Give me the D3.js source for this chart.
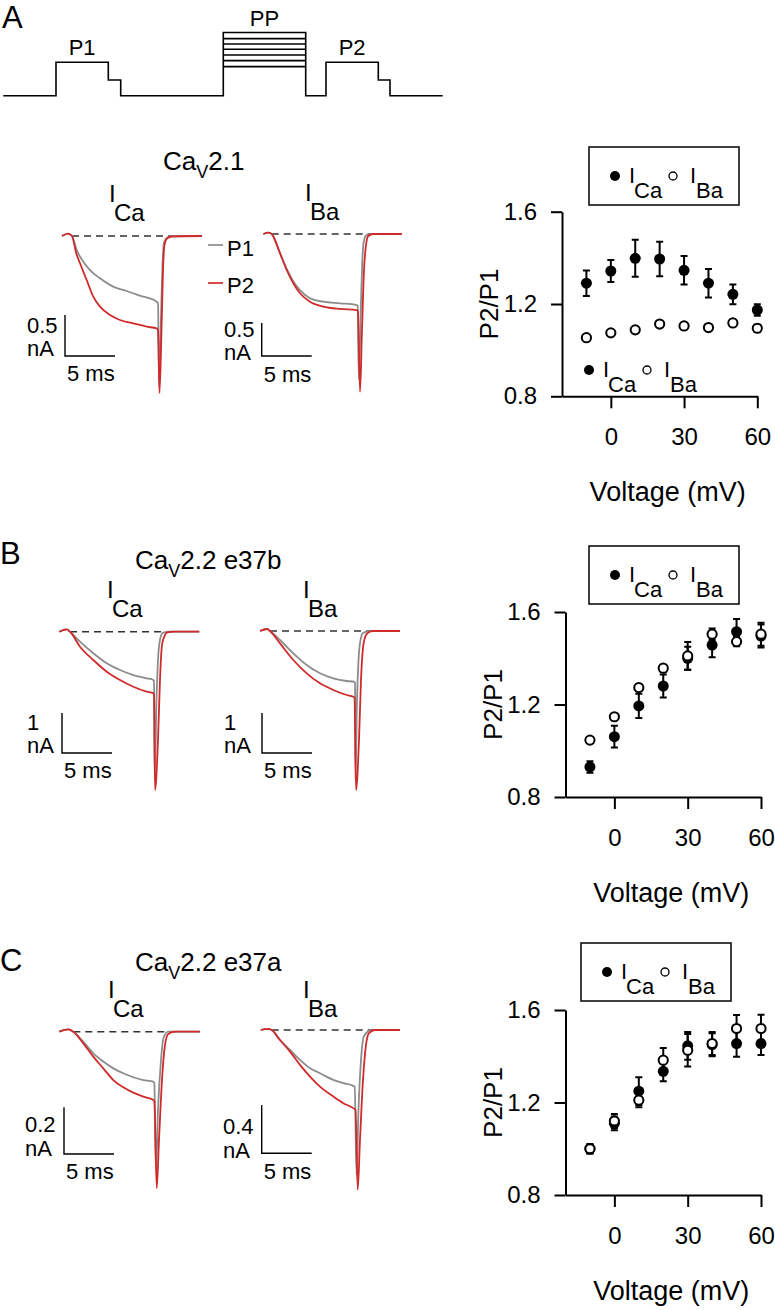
<!DOCTYPE html>
<html><head><meta charset="utf-8">
<script src="https://cdn.jsdelivr.net/npm/d3@7/dist/d3.min.js"></script>
<style>
body{margin:0;background:#fff}
svg{display:block}
text{font-family:"Liberation Sans",Arial,Helvetica,sans-serif;fill:#000}
</style>
</head><body>
<svg id="fig" width="775" height="1310"></svg>
<script>
// ================= DATA =================
// Voltage protocol (arbitrary time units, relative step levels)
const protoTimes  = [0, 52.7, 105, 117.4, 220, 302.4, 322.7, 375, 386.7, 439.4];
const protoLevels = [0, 1, 0.47, 0, 1.89, 0, 1, 0.47, 0];
const ppLevels    = [1.89, 1.71, 1.55, 1.39, 1.22, 1.05, 0.87];
const protoLabels = ["P1", "PP", "P2"];

// Scatter: P2/P1 vs voltage
const voltages = [-10, 0, 10, 20, 30, 40, 50, 60];
const xTickVals = [0, 30, 60];
const yTickVals = [0.8, 1.2, 1.6];
const aCaMean = [1.29, 1.343, 1.398, 1.395, 1.346, 1.29, 1.242, 1.174];
const aCaErr  = [0.055, 0.048, 0.08, 0.075, 0.062, 0.062, 0.043, 0.025];
const aBaMean = [1.054, 1.075, 1.088, 1.113, 1.105, 1.098, 1.118, 1.095];
const aBaErr  = [0.01, 0.012, 0.012, 0.012, 0.01, 0.01, 0.012, 0.015];
const bCaMean = [0.93, 1.061, 1.194, 1.28, 1.40, 1.457, 1.515, 1.496];
const bCaErr  = [0.025, 0.047, 0.052, 0.05, 0.05, 0.053, 0.055, 0.05];
const bBaMean = [1.046, 1.147, 1.273, 1.357, 1.41, 1.504, 1.472, 1.504];
const bBaErr  = [0.01, 0.012, 0.015, 0.015, 0.06, 0.025, 0.02, 0.05];
const cCaMean = [1.0, 1.11, 1.249, 1.335, 1.445, 1.45, 1.455, 1.455];
const cCaErr  = [0.02, 0.03, 0.06, 0.043, 0.06, 0.05, 0.057, 0.05];
const cBaMean = [1.0, 1.12, 1.21, 1.383, 1.426, 1.455, 1.52, 1.52];
const cBaErr  = [0.02, 0.03, 0.03, 0.053, 0.07, 0.05, 0.058, 0.06];

// Current traces: [time (ms), current (nA)]
const aCaP1 = [[-1,0],[-0.4,0.03],[0,0],[0.47,-0.171],[1.13,-0.313],[1.8,-0.415],[2.8,-0.516],[4.13,-0.618],[5.47,-0.671],[6.8,-0.728],[8.47,-0.801],[8.6,-0.82],[8.72,-1.85],[8.9,-1.0],[9.05,-0.35],[9.2,-0.08],[9.5,-0.02],[10,0],[13,0]];
const aCaP2 = [[-1,0],[-0.4,0.03],[0,0],[0.4,-0.2],[0.8,-0.333],[1.47,-0.537],[2.13,-0.74],[2.8,-0.862],[3.8,-0.963],[4.8,-1.024],[6.13,-1.065],[7.47,-1.106],[8.47,-1.126],[8.6,-1.15],[8.75,-1.915],[8.95,-1.146],[9.1,-0.415],[9.25,-0.11],[9.5,-0.03],[10,-0.006],[13,0]];
const aBaP1 = [[-0.84,0],[-0.3,0.02],[0,0],[0.83,-0.29],[1.5,-0.53],[2.16,-0.72],[2.83,-0.85],[3.83,-0.974],[5.16,-1.026],[6.83,-1.05],[8.5,-1.076],[8.6,-1.09],[8.71,-2.2],[8.9,-1.2],[9.05,-0.45],[9.2,-0.12],[9.45,-0.02],[10,0],[13,0]];
const aBaP2 = [[-0.84,0],[-0.3,0.02],[0,0],[0.83,-0.292],[1.5,-0.545],[2.16,-0.747],[2.83,-0.898],[3.83,-1.026],[5.16,-1.1],[6.83,-1.136],[8.5,-1.152],[8.62,-1.17],[8.83,-2.39],[9.03,-1.45],[9.23,-0.55],[9.43,-0.17],[9.66,-0.03],[10.16,0],[13,0]];
const bCaP1 = [[-1.07,0],[-0.33,0.06],[0,0],[1.0,-0.25],[2.33,-0.54],[3.67,-0.79],[5.0,-0.958],[6.33,-1.083],[7.67,-1.165],[8.33,-1.208],[8.4,-1.22],[8.47,-3.6],[8.65,-1.7],[8.8,-0.7],[9.0,-0.2],[9.27,-0.03],[10,0],[12.93,0]];
const bCaP2 = [[-1.07,0],[-0.33,0.06],[0,0],[1.0,-0.375],[2.33,-0.708],[3.67,-1.0],[5.0,-1.208],[6.33,-1.375],[7.67,-1.5],[8.33,-1.54],[8.4,-1.56],[8.5,-3.96],[8.8,-2.7],[9.0,-1.2],[9.2,-0.33],[9.45,-0.11],[9.67,-0.025],[10.33,0],[12.93,0]];
const bBaP1 = [[-1,0],[-0.3,0.05],[0,0],[1.0,-0.225],[2.33,-0.558],[3.67,-0.85],[5.0,-1.058],[6.33,-1.183],[7.67,-1.25],[8.4,-1.268],[8.5,-1.3],[8.55,-3.7],[8.7,-1.73],[8.85,-0.73],[9.05,-0.23],[9.3,-0.05],[10,0],[13,0]];
const bBaP2 = [[-1,0],[-0.3,0.05],[0,0],[1.0,-0.308],[2.33,-0.725],[3.67,-1.058],[5.0,-1.308],[6.33,-1.475],[7.67,-1.6],[8.33,-1.643],[8.45,-1.67],[8.6,-3.98],[8.9,-2.72],[9.1,-1.22],[9.3,-0.42],[9.55,-0.125],[9.83,-0.04],[10.3,0],[13,0]];
const cCaP1 = [[-1.4,0],[-0.5,0.01],[0,0],[1.0,-0.043],[2.0,-0.0925],[3.0,-0.128],[4.0,-0.157],[5.0,-0.178],[6.0,-0.195],[7.0,-0.207],[8.0,-0.214],[8.1,-0.22],[8.27,-0.59],[8.47,-0.335],[8.77,-0.121],[9.02,-0.027],[9.5,0],[12.67,0]];
const cCaP2 = [[-1.4,0],[-0.5,0.01],[0,0],[1.0,-0.05],[2.0,-0.107],[3.0,-0.157],[4.0,-0.207],[5.0,-0.238],[6.0,-0.261],[7.0,-0.278],[8.0,-0.292],[8.1,-0.297],[8.34,-0.67],[8.57,-0.464],[8.87,-0.207],[9.17,-0.057],[9.5,-0.01],[10.17,0],[12.67,0]];
const cBaP1 = [[-1.1,0],[-0.4,0.01],[0,0],[0.83,-0.083],[1.83,-0.165],[2.83,-0.248],[3.83,-0.317],[4.83,-0.358],[6.16,-0.413],[7.16,-0.44],[8.16,-0.463],[8.3,-0.47],[8.48,-1.2],[8.68,-0.66],[8.93,-0.248],[9.23,-0.05],[10,0],[12.83,0]];
const cBaP2 = [[-1.1,0],[-0.4,0.01],[0,0],[0.83,-0.083],[1.83,-0.179],[2.83,-0.289],[3.83,-0.386],[4.83,-0.469],[6.16,-0.551],[7.16,-0.606],[8.16,-0.647],[8.38,-0.66],[8.6,-1.322],[8.83,-0.909],[9.13,-0.413],[9.43,-0.124],[9.73,-0.025],[10.33,0],[12.83,0]];

const scaleBarNA = [0.5, 0.5, 1, 1, 0.2, 0.4];
const scaleBarMs = 5;
const panelTitles = [["Ca","V","2.1"],["Ca","V","2.2 e37b"],["Ca","V","2.2 e37a"]];
const panelLetters = ["A","B","C"];

// ================= DRAW =================
const svg = d3.select("#fig");
const RED = "#d02a2a", GRAY = "#8c8c8c";
const FONT = "Liberation Sans, Arial, sans-serif";

// panel letters
[[2,28],[0,564],[0,971]].forEach((p,i)=>{
  svg.append("text").attr("x",p[0]).attr("y",p[1]).attr("font-size",31).text(panelLetters[i]);
});

// ---- Protocol ----
(function(){
  const px = d3.scaleLinear().domain([0, 439.4]).range([3.3, 442.7]);
  const py = d3.scaleLinear().domain([0, 1]).range([95.7, 62.3]);
  const pts = protoLevels.map((l,i)=>[protoTimes[i], l]);
  pts.push([protoTimes[protoTimes.length-1], 0]);
  const line = d3.line().x(d=>px(d[0])).y(d=>py(d[1])).curve(d3.curveStepAfter);
  const g = svg.append("g").attr("fill","none").attr("stroke","#000").attr("stroke-width",1.6);
  g.append("path").attr("d", line(pts));
  ppLevels.slice(1).forEach(l=>{
    g.append("line").attr("x1",px(protoTimes[4])).attr("x2",px(protoTimes[5]))
      .attr("y1",py(l)).attr("y2",py(l));
  });
  const lab = [[(protoTimes[1]+protoTimes[2])/2, 1],[(protoTimes[4]+protoTimes[5])/2, 1.89],[(protoTimes[6]+protoTimes[7])/2, 1]];
  lab.forEach((d,i)=>{
    svg.append("text").attr("x",px(d[0])).attr("y",py(d[1])-7).attr("text-anchor","middle")
      .attr("font-size",22).text(protoLabels[i]);
  });
})();

// ---- Trace panels ----
function tracePanel(cfg){
  const x = d3.scaleLinear().domain([0, scaleBarMs]).range([cfg.x0, cfg.x0 + 50]);
  const y = d3.scaleLinear().domain([0, -cfg.barNA]).range([cfg.y0, cfg.y0 + cfg.barPx]);
  const line = d3.line().x(d=>x(d[0])).y(d=>y(d[1])).curve(d3.curveMonotoneX);
  const g = svg.append("g");
  g.append("line").attr("x1",x(0)).attr("x2",x(cfg.dashEnd)).attr("y1",y(0)).attr("y2",y(0))
    .attr("stroke","#333").attr("stroke-width",1.4).attr("stroke-dasharray","7,5");
  g.append("path").attr("d",line(cfg.p1)).attr("fill","none").attr("stroke",GRAY).attr("stroke-width",1.8);
  g.append("path").attr("d",line(cfg.p2)).attr("fill","none").attr("stroke",RED).attr("stroke-width",1.8);
  // scale bar
  const bx = cfg.bx, by = cfg.by;
  const vlen = y(-cfg.barNA) - y(0);
  const hlen = x(scaleBarMs) - x(0);
  g.append("path").attr("d",`M${bx},${by-vlen}V${by}H${bx+hlen}`).attr("fill","none")
    .attr("stroke","#000").attr("stroke-width",1.4);
  g.append("text").attr("x",cfg.lx).attr("y",cfg.l1y).attr("font-size",22).text(String(cfg.barNA));
  g.append("text").attr("x",cfg.lx).attr("y",cfg.l2y).attr("font-size",22).text("nA");
  g.append("text").attr("x",bx+2).attr("y",cfg.l3y).attr("font-size",22).text(scaleBarMs+" ms");
  // I label
  g.append("text").attr("x",cfg.ix).attr("y",cfg.iy).attr("font-size",24).text("I");
  g.append("text").attr("x",cfg.ix+5).attr("y",cfg.iy+19).attr("font-size",24).text(cfg.ion);
}

const tp = [
  {p1:aCaP1,p2:aCaP2,x0:72,y0:236,barNA:scaleBarNA[0],barPx:41,dashEnd:10.5,bx:65,by:356,lx:27,l1y:333,l2y:356,l3y:381,ix:109,iy:202,ion:"Ca"},
  {p1:aBaP1,p2:aBaP2,x0:271.7,y0:234,barNA:scaleBarNA[1],barPx:33,dashEnd:10,bx:261.7,by:356,lx:224,l1y:337,l2y:360,l3y:382,ix:305,iy:201,ion:"Ba"},
  {p1:bCaP1,p2:bCaP2,x0:70,y0:631.7,barNA:scaleBarNA[2],barPx:40,dashEnd:10.7,bx:62,by:753,lx:27,l1y:730,l2y:753,l3y:778,ix:107,iy:598,ion:"Ca"},
  {p1:bBaP1,p2:bBaP2,x0:270,y0:631,barNA:scaleBarNA[3],barPx:40,dashEnd:11,bx:262,by:753,lx:224,l1y:730,l2y:753,l3y:778,ix:303,iy:598,ion:"Ba"},
  {p1:cCaP1,p2:cCaP2,x0:73.3,y0:1031.7,barNA:scaleBarNA[4],barPx:46.7,dashEnd:10.7,bx:64,by:1154,lx:25,l1y:1132,l2y:1156,l3y:1179,ix:108,iy:998,ion:"Ca"},
  {p1:cBaP1,p2:cBaP2,x0:271.7,y0:1030,barNA:scaleBarNA[5],barPx:48.3,dashEnd:10.6,bx:261.7,by:1153.3,lx:223,l1y:1134,l2y:1158,l3y:1179,ix:303,iy:998,ion:"Ba"}
];
tp.forEach(tracePanel);

// P1/P2 legend in A
[[GRAY,245,"P1",256],[RED,283,"P2",293]].forEach(d=>{
  svg.append("line").attr("x1",208).attr("x2",223).attr("y1",d[1]).attr("y2",d[1]).attr("stroke",d[0]).attr("stroke-width",1.7);
  svg.append("text").attr("x",227).attr("y",d[3]).attr("font-size",22).text(d[2]);
});

// titles
[[163,170],[135,569],[135,971]].forEach((p,i)=>{
  const t = svg.append("text").attr("x",p[0]).attr("y",p[1]).attr("font-size",26);
  t.append("tspan").text(panelTitles[i][0]);
  t.append("tspan").attr("dy",8).attr("font-size",18).text(panelTitles[i][1]);
  t.append("tspan").attr("dy",-8).text(panelTitles[i][2]);
});

// ---- Scatter panels ----
function legendIcons(g, x, y){
  g.append("circle").attr("cx",x).attr("cy",y).attr("r",5).attr("fill","#000");
  g.append("text").attr("x",x+14).attr("y",y+7).attr("font-size",22).text("I");
  g.append("text").attr("x",x+19).attr("y",y+22).attr("font-size",22).text("Ca");
  g.append("circle").attr("cx",x+58).attr("cy",y).attr("r",4).attr("fill","#fff").attr("stroke","#000").attr("stroke-width",1.3);
  g.append("text").attr("x",x+75).attr("y",y+7).attr("font-size",22).text("I");
  g.append("text").attr("x",x+81).attr("y",y+22).attr("font-size",22).text("Ba");
}

function scatterPanel(cfg){
  const x = d3.scaleLinear().domain([-20, 60]).range([cfg.xl, cfg.xr]);
  const y = d3.scaleLinear().domain([0.8, 1.6]).range([cfg.yb, cfg.yt]);
  const g = svg.append("g");
  const ax = g.append("g").attr("transform",`translate(0,${cfg.yb})`)
    .call(d3.axisBottom(x).tickValues(xTickVals).tickSize(12).tickSizeOuter(0).tickPadding(20).tickFormat(d3.format("d")));
  const ay = g.append("g").attr("transform",`translate(${cfg.xl},0)`)
    .call(d3.axisLeft(y).tickValues(yTickVals).tickSize(11).tickSizeOuter(0).tickPadding(14).tickFormat(d3.format(".1f")));
  [ax,ay].forEach(a=>{
    a.selectAll("path,line").attr("stroke","#000").attr("stroke-width",2);
    a.selectAll("text").attr("font-size",24).attr("font-family",FONT).attr("fill","#000");
  });
  g.append("text").attr("transform",`translate(${cfg.xl-64},${(cfg.yb+cfg.yt)/2}) rotate(-90)`)
    .attr("text-anchor","middle").attr("font-size",26).text("P2/P1");
  g.append("text").attr("x",(cfg.xl+cfg.xr)/2+8).attr("y",cfg.yb+105).attr("text-anchor","middle")
    .attr("font-size",27).text("Voltage (mV)");

  function series(mean, err, filled){
    const s = g.append("g");
    voltages.forEach((v,i)=>{
      const cx = x(v), y1 = y(mean[i]+err[i]), y2 = y(mean[i]-err[i]);
      s.append("path").attr("d",`M${cx},${y1}V${y2}M${cx-3.5},${y1}H${cx+3.5}M${cx-3.5},${y2}H${cx+3.5}`)
        .attr("stroke","#000").attr("stroke-width",2).attr("fill","none");
    });
    s.selectAll("circle").data(voltages).join("circle")
      .attr("cx",d=>x(d)).attr("cy",(d,i)=>y(mean[i]))
      .attr("r",filled?5.5:4.6)
      .attr("fill",filled?"#000":"#fff").attr("stroke","#000").attr("stroke-width",filled?0:2);
  }
  series(cfg.ca, cfg.caE, true);
  series(cfg.ba, cfg.baE, false);

  // legend box
  g.append("rect").attr("x",cfg.lgx).attr("y",cfg.lgy).attr("width",150).attr("height",58)
    .attr("fill","#fff").attr("stroke","#000").attr("stroke-width",1.5);
  legendIcons(g, cfg.lgx+26, cfg.lgy+29);
  if(cfg.inner) legendIcons(g, cfg.inner[0], cfg.inner[1]);
}

scatterPanel({xl:562,xr:757.3,yb:396.3,yt:211.7,ca:aCaMean,caE:aCaErr,ba:aBaMean,baE:aBaErr,lgx:589,lgy:147,inner:[589,370]});
scatterPanel({xl:565.5,xr:761,yb:797,yt:612,ca:bCaMean,caE:bCaErr,ba:bBaMean,baE:bBaErr,lgx:589,lgy:546});
scatterPanel({xl:565.5,xr:761,yb:1195,yt:1010,ca:cCaMean,caE:cCaErr,ba:cBaMean,baE:cBaErr,lgx:581,lgy:943});
</script>
</body></html>
